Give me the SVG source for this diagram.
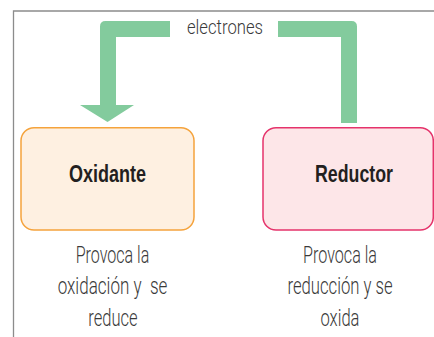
<svg xmlns="http://www.w3.org/2000/svg" width="434" height="337" viewBox="0 0 434 337">
  <style>
    .frame { fill: none; stroke: #8c8c8c; stroke-width: 1.3; }
    .flow { fill: #83cb9d; stroke: none; }
    .label { font-family: Roboto, "Liberation Sans", sans-serif; font-weight: 300; font-size: 20px; fill: #3a3a3a; text-anchor: middle; }
    .title { font-family: "Liberation Sans", Arial, sans-serif; font-weight: bold; font-size: 24px; fill: #231f20; text-anchor: middle; }
    .desc { font-family: Roboto, "Liberation Sans", sans-serif; font-weight: 300; font-size: 24px; fill: #3a3a3a; text-anchor: middle; }
    .ox-box { fill: #fef0e1; stroke: #f5a33c; stroke-width: 1.5; }
    .red-box { fill: #fde6e8; stroke: #e5336b; stroke-width: 1.5; }
  </style>
  <rect width="434" height="337" fill="#ffffff"/>
  <path class="frame" d="M 434 11 H 13.5 V 337"/>

  <g id="connectors">
    <path class="flow" d="M 170 21 H 105.5 Q 100 21 100 26.5 V 105 H 80 L 107.5 122 L 134 105 H 116 V 37 H 170 Z"/>
    <path class="flow" d="M 278 21 H 351.5 Q 357 21 357 26.5 V 123 H 341 V 37 H 278 Z"/>
    <text class="label" x="225" y="34" textLength="76" lengthAdjust="spacingAndGlyphs">electrones</text>
  </g>

  <g id="oxidante">
    <rect class="ox-box" x="21" y="127.7" width="173" height="102.3" rx="13" ry="13"/>
    <text class="title" x="107.5" y="181.5" textLength="77" lengthAdjust="spacingAndGlyphs">Oxidante</text>
    <text class="desc" x="112.5" y="262.7" textLength="73.6" lengthAdjust="spacingAndGlyphs">Provoca la</text>
    <text class="desc" x="112.5" y="294.3" textLength="109.7" lengthAdjust="spacingAndGlyphs" xml:space="preserve">oxidación y  se</text>
    <text class="desc" x="113" y="326" textLength="49.3" lengthAdjust="spacingAndGlyphs">reduce</text>
  </g>

  <g id="reductor">
    <rect class="red-box" x="263" y="127.7" width="170.3" height="102.3" rx="13" ry="13"/>
    <text class="title" x="354" y="181.5" textLength="78" lengthAdjust="spacingAndGlyphs">Reductor</text>
    <text class="desc" x="340" y="262.7" textLength="74" lengthAdjust="spacingAndGlyphs">Provoca la</text>
    <text class="desc" x="340" y="294.3" textLength="105" lengthAdjust="spacingAndGlyphs">reducción y se</text>
    <text class="desc" x="340" y="326" textLength="39" lengthAdjust="spacingAndGlyphs">oxida</text>
  </g>
</svg>
